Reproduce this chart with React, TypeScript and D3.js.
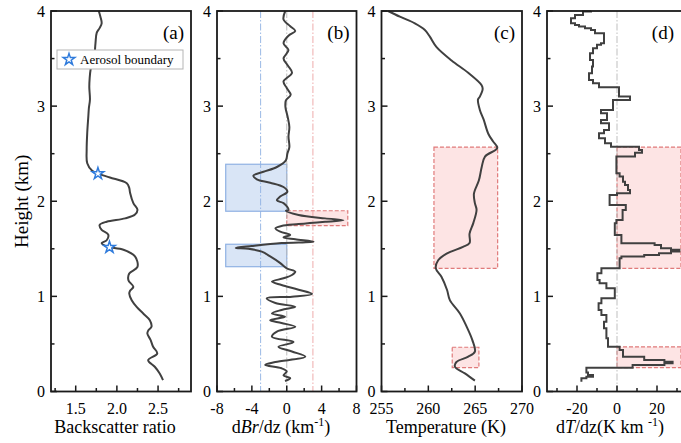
import React from "react";
import * as d3 from "d3";

// vertical profiles, [height km, value]
const backscatterRatio: [number, number][] = [
  [4.0, 1.78], [3.94, 1.8], [3.87, 1.815], [3.82, 1.79], [3.77, 1.755], [3.66, 1.74],
  [3.52, 1.725], [3.45, 1.7], [3.38, 1.68], [3.3, 1.67], [3.2, 1.665], [3.07, 1.673],
  [2.98, 1.66], [2.89, 1.653], [2.72, 1.64], [2.54, 1.633], [2.4, 1.64], [2.32, 1.7],
  [2.29, 1.77], [2.25, 1.916], [2.19, 2.12], [2.14, 2.15], [2.09, 2.16], [1.98, 2.2],
  [1.91, 2.25], [1.86, 2.22], [1.82, 2.1], [1.785, 1.876], [1.75, 1.79], [1.7, 1.815],
  [1.65, 1.895], [1.59, 1.876], [1.56, 1.815], [1.53, 1.86], [1.516, 1.91], [1.49, 2.08],
  [1.42, 2.22], [1.31, 2.25], [1.24, 2.15], [1.17, 2.14], [1.1, 2.2], [1.06, 2.16],
  [1.03, 2.15], [0.96, 2.18], [0.89, 2.24], [0.82, 2.32], [0.75, 2.4], [0.68, 2.42],
  [0.64, 2.38], [0.61, 2.37], [0.54, 2.41], [0.47, 2.44], [0.4, 2.49], [0.33, 2.38],
  [0.26, 2.46], [0.19, 2.52], [0.12, 2.56],
];
const aerosolBoundary: [number, number][] = [[2.29, 1.77], [1.516, 1.91]];

const dBrdz: [number, number][] = [
  [4.0, -0.17], [3.91, -0.37], [3.84, 0.4], [3.79, 0.98], [3.74, 0.2], [3.66, -0.37],
  [3.59, 0.2], [3.5, -0.37], [3.43, 0.1], [3.35, 0.6], [3.26, -0.37], [3.19, 0],
  [3.12, 0.45], [3.06, -0.1], [2.99, -0.15], [2.89, 0.1], [2.78, 0.3], [2.68, 0.2],
  [2.57, 0.3], [2.5, 0.07], [2.43, -0.1], [2.36, -1.13], [2.31, -2.67], [2.27, -3.82],
  [2.23, -3.43], [2.195, -1.9], [2.15, -0.37], [2.1, 0.07], [2.05, -0.75], [2.01, -1.13],
  [1.98, -0.37], [1.94, 0.07], [1.91, 0.2], [1.9, -0.1], [1.856, 1.36], [1.82, 4.4],
  [1.8, 6.5], [1.785, 4.4], [1.76, 1.36], [1.74, -0.6], [1.716, -1.3], [1.68, -0.74],
  [1.646, 0.4], [1.62, -0.37], [1.6, 0.98], [1.575, 3.08], [1.56, -0.6], [1.53, -4],
  [1.51, -5.85], [1.5, -4.4], [1.47, -2.86], [1.42, -1.9], [1.35, -0.74], [1.295, 0],
  [1.26, 0.98], [1.225, 0.6], [1.19, -0.37], [1.155, -1.7], [1.12, -0.6], [1.07, 1.36],
  [1.025, 2.9], [0.997, 0.6], [0.98, -2.3], [0.93, -1.3], [0.89, 0.98], [0.857, -0.6],
  [0.82, -1.7], [0.787, -0.2], [0.75, -1.9], [0.72, -0.6], [0.68, 0.98], [0.63, -1.13],
  [0.576, -1.7], [0.52, 0.78], [0.47, -0.95], [0.42, 0.6], [0.366, 2.13], [0.31, -1.3],
  [0.28, -2.47], [0.244, -0.6], [0.21, 0], [0.17, -0.37], [0.14, 0.4], [0.11, -0.2],
];
const brThresholds = [-3, 0, 3];

const temperature: [number, number][] = [
  [4.0, 255.7], [3.94, 256.96], [3.87, 258.56], [3.8, 259.63], [3.73, 260.16],
  [3.62, 260.88], [3.48, 262.48], [3.35, 264.26], [3.22, 265.69], [3.18, 265.8],
  [3.1, 265.5], [3.07, 265.3], [2.96, 265.5], [2.86, 265.9], [2.71, 266.4],
  [2.63, 266.9], [2.56, 267.36], [2.47, 266.05], [2.36, 265.7], [2.22, 265.4],
  [2.08, 264.87], [1.98, 264.97], [1.91, 265.15], [1.77, 264.8], [1.66, 264.4],
  [1.56, 264.4], [1.52, 263.7], [1.45, 261.95], [1.38, 261.05], [1.295, 260.8],
  [1.207, 261.4], [1.067, 262.0], [0.96, 262.3], [0.82, 263.37], [0.68, 264.1],
  [0.54, 264.7], [0.42, 264.97], [0.366, 264.26], [0.31, 263.0], [0.26, 262.84],
  [0.19, 263.9], [0.114, 264.97],
];

// dT/dz layers: [layer top km, value], last entry is the bottom of the profile
const dTdz: [number, number][] = [
  [4.0, -13], [3.994, -17], [3.959, -21], [3.924, -23], [3.871, -21], [3.854, -19],
  [3.836, -16], [3.819, -13], [3.801, -11], [3.766, -6.5], [3.661, -8], [3.644, -10],
  [3.609, -12], [3.556, -13.5], [3.486, -12], [3.416, -12.5], [3.346, -14], [3.275, -12],
  [3.24, -9], [3.198, 1], [3.1, 6.5], [3.065, -2], [2.96, -8], [2.925, -5], [2.855, -8],
  [2.82, -4], [2.75, -6.5], [2.715, -9], [2.662, -6], [2.61, -3], [2.574, 11],
  [2.539, 12.5], [2.511, 9], [2.47, -0.3], [2.294, 1.3], [2.259, 3], [2.206, 4],
  [2.171, 5.5], [2.119, 6.5], [2.084, 0], [2.066, -3.7], [1.961, 4.4], [1.908, 2.8],
  [1.804, -0.3], [1.768, -1.1], [1.646, 2.2], [1.558, 18.8], [1.54, 22], [1.506, 27],
  [1.489, 31.2], [1.471, 27], [1.453, 21], [1.436, 13.6], [1.418, 2.2], [1.401, 1.3],
  [1.296, -7.8], [1.243, -9.8], [1.173, -8.7], [1.138, -5.3], [1.086, -1.1], [0.98, -7.8],
  [0.928, -9.2], [0.857, -7.8], [0.805, -5.3], [0.734, -6.5], [0.664, -5.3], [0.559, -4.5],
  [0.471, 1.3], [0.436, 3], [0.366, 13.6], [0.331, 23.7], [0.313, 27.8], [0.296, 23.7],
  [0.278, 7.8], [0.25, -15.3], [0.2, -14.5], [0.173, -12], [0.155, -15.3], [0.138, -17.8],
  [0.103, -17.8],
];

// shaded layers: [bottom km, top km, x0, x1]
const blueBoxesB = [[1.895, 2.389, -7, 0], [1.312, 1.548, -7, 0]];
const redBoxesB = [[1.743, 1.9, 0, 7]];
const redBoxesC = [[1.295, 2.57, 260.6, 267.4], [0.25, 0.465, 262.55, 265.4]];
const redBoxesD = [[1.295, 2.57, 0, 35], [0.25, 0.47, 0, 35]];

const heightTicks = [0, 1, 2, 3, 4];
const heightMinor = [0.5, 1.5, 2.5, 3.5];

const FONT = "Liberation Serif, Times New Roman, serif";
const LINE = "#404040";

const y = d3.scaleLinear().domain([0, 4]).range([391.5, 11]);

type PanelProps = {
  x: d3.ScaleLinear<number, number>;
  major: number[];
  minor: number[];
  fmt: (v: number) => string;
  tag: string;
  title: React.ReactNode;
  titleX: number;
  children?: React.ReactNode;
};

function Panel({ x, major, minor, fmt, tag, title, titleX, children }: PanelProps) {
  const [x0, x1] = x.range();
  const y0 = y(0), y1 = y(4);
  return (
    <g>
      {children}
      <rect x={x0} y={y1} width={x1 - x0} height={y0 - y1} fill="none" stroke="#1a1a1a" strokeWidth={1.8} />
      {major.map((v) => (
        <g key={"mx" + v}>
          <line x1={x(v)} x2={x(v)} y1={y0} y2={y0 - 6} stroke="#1a1a1a" strokeWidth={1.5} />
          <text x={x(v)} y={413.5} textAnchor="middle" fontSize={16}>{fmt(v)}</text>
        </g>
      ))}
      {minor.map((v) => (
        <line key={"nx" + v} x1={x(v)} x2={x(v)} y1={y0} y2={y0 - 3.5} stroke="#1a1a1a" strokeWidth={1.5} />
      ))}
      {heightTicks.map((h) => (
        <g key={"my" + h}>
          <line x1={x0} x2={x0 + 6} y1={y(h)} y2={y(h)} stroke="#1a1a1a" strokeWidth={1.5} />
          <text x={x0 - 6} y={y(h)} dy="0.35em" textAnchor="end" fontSize={16}>{h}</text>
        </g>
      ))}
      {heightMinor.map((h) => (
        <line key={"ny" + h} x1={x0} x2={x0 + 3.5} y1={y(h)} y2={y(h)} stroke="#1a1a1a" strokeWidth={1.5} />
      ))}
      <text x={Math.min(x1, 681) - 7} y={39} textAnchor="end" fontSize={19}>{tag}</text>
      <text x={titleX} y={433} textAnchor="middle" fontSize={18}>{title}</text>
    </g>
  );
}

export default function App() {
  const xa = d3.scaleLinear().domain([1.2, 2.9]).range([51, 191]);
  const xb = d3.scaleLinear().domain([-8, 8]).range([217, 356.5]);
  const xc = d3.scaleLinear().domain([255, 270]).range([381.5, 522]);
  const xd = d3.scaleLinear().domain([-35, 35]).range([547, 687]);

  const smooth = (sx: d3.ScaleLinear<number, number>) =>
    d3.line<[number, number]>().x((d) => sx(d[1])).y((d) => y(d[0])).curve(d3.curveCatmullRom.alpha(0.5));
  const step = d3.line<[number, number]>().x((d) => xd(d[1])).y((d) => y(d[0])).curve(d3.curveStepBefore);
  const star = d3.symbol().type(d3.symbolStar).size(42)();

  const boxes = (sx: d3.ScaleLinear<number, number>, list: number[][], fill: string, stroke: string, dash?: string) =>
    list.map((b, i) => {
      const left = sx(b[2]), right = Math.min(sx(b[3]), 681);
      return (
        <rect key={i} x={left} y={y(b[1])} width={right - left} height={y(b[0]) - y(b[1])}
          fill={fill} stroke={stroke} strokeWidth={1.2} strokeDasharray={dash} />
      );
    });

  const vline = (sx: d3.ScaleLinear<number, number>, v: number, color: string) => (
    <line key={v} x1={sx(v)} x2={sx(v)} y1={y(4)} y2={y(0)} stroke={color} strokeWidth={0.9} strokeDasharray="7,2,1.5,2" />
  );

  return (
    <svg width={681} height={443} style={{ position: "absolute", left: 0, top: 0, fontFamily: FONT }}>
      <rect width={681} height={443} fill="#fff" />
      <text transform={`translate(28,${(y(0) + y(4)) / 2}) rotate(-90)`} textAnchor="middle" fontSize={19}>Height (km)</text>

      <Panel x={xa} major={[1.5, 2, 2.5]} minor={[1.25, 1.75, 2.25, 2.75]} fmt={d3.format(".1f")} tag="(a)"
        title="Backscatter ratio" titleX={115}>
        <path d={smooth(xa)(backscatterRatio) || ""} fill="none" stroke={LINE} strokeWidth={2} />
        {aerosolBoundary.map((d, i) => (
          <path key={i} d={star || ""} transform={`translate(${xa(d[1])},${y(d[0])})`} fill="#fff" stroke="#2f7bdc" strokeWidth={1.5} />
        ))}
        <rect x={57} y={50} width={126} height={19} fill="#fff" stroke="#b5b5b5" strokeWidth={1} />
        <path d={star || ""} transform="translate(69,59.5)" fill="#fff" stroke="#2f7bdc" strokeWidth={1.5} />
        <text x={80} y={64} fontSize={13}>Aerosol boundary</text>
      </Panel>

      <Panel x={xb} major={[-8, -4, 0, 4, 8]} minor={[-6, -2, 2, 6]} fmt={(v) => String(v)} tag="(b)"
        title={<>d<tspan fontStyle="italic">Br</tspan>/dz (km<tspan dy={-7} fontSize={12}>-1</tspan><tspan dy={7}>)</tspan></>}
        titleX={281}>
        {boxes(xb, blueBoxesB, "#d9e5f6", "#8fb1e3")}
        {boxes(xb, redBoxesB, "#fde4e4", "#e07a7a", "4,2")}
        {vline(xb, brThresholds[0], "#8fb1e3")}
        {vline(xb, brThresholds[1], "#b8b8b8")}
        {vline(xb, brThresholds[2], "#eba0a0")}
        <path d={smooth(xb)(dBrdz) || ""} fill="none" stroke={LINE} strokeWidth={2} />
      </Panel>

      <Panel x={xc} major={[255, 260, 265, 270]} minor={[257.5, 262.5, 267.5]} fmt={(v) => String(v)} tag="(c)"
        title="Temperature (K)" titleX={446}>
        {boxes(xc, redBoxesC, "#fde4e4", "#e07a7a", "4,2")}
        <path d={smooth(xc)(temperature) || ""} fill="none" stroke={LINE} strokeWidth={2} />
      </Panel>

      <Panel x={xd} major={[-20, 0, 20]} minor={[-30, -10, 10, 30]} fmt={(v) => String(v)} tag="(d)"
        title={<>d<tspan fontStyle="italic">T</tspan>/dz(K km <tspan dy={-7} fontSize={12}>-1</tspan><tspan dy={7}>)</tspan></>}
        titleX={610}>
        {boxes(xd, redBoxesD, "#fde4e4", "#e07a7a", "4,2")}
        {vline(xd, 0, "#b8b8b8")}
        <path d={step(dTdz) || ""} fill="none" stroke={LINE} strokeWidth={2} />
      </Panel>
    </svg>
  );
}
